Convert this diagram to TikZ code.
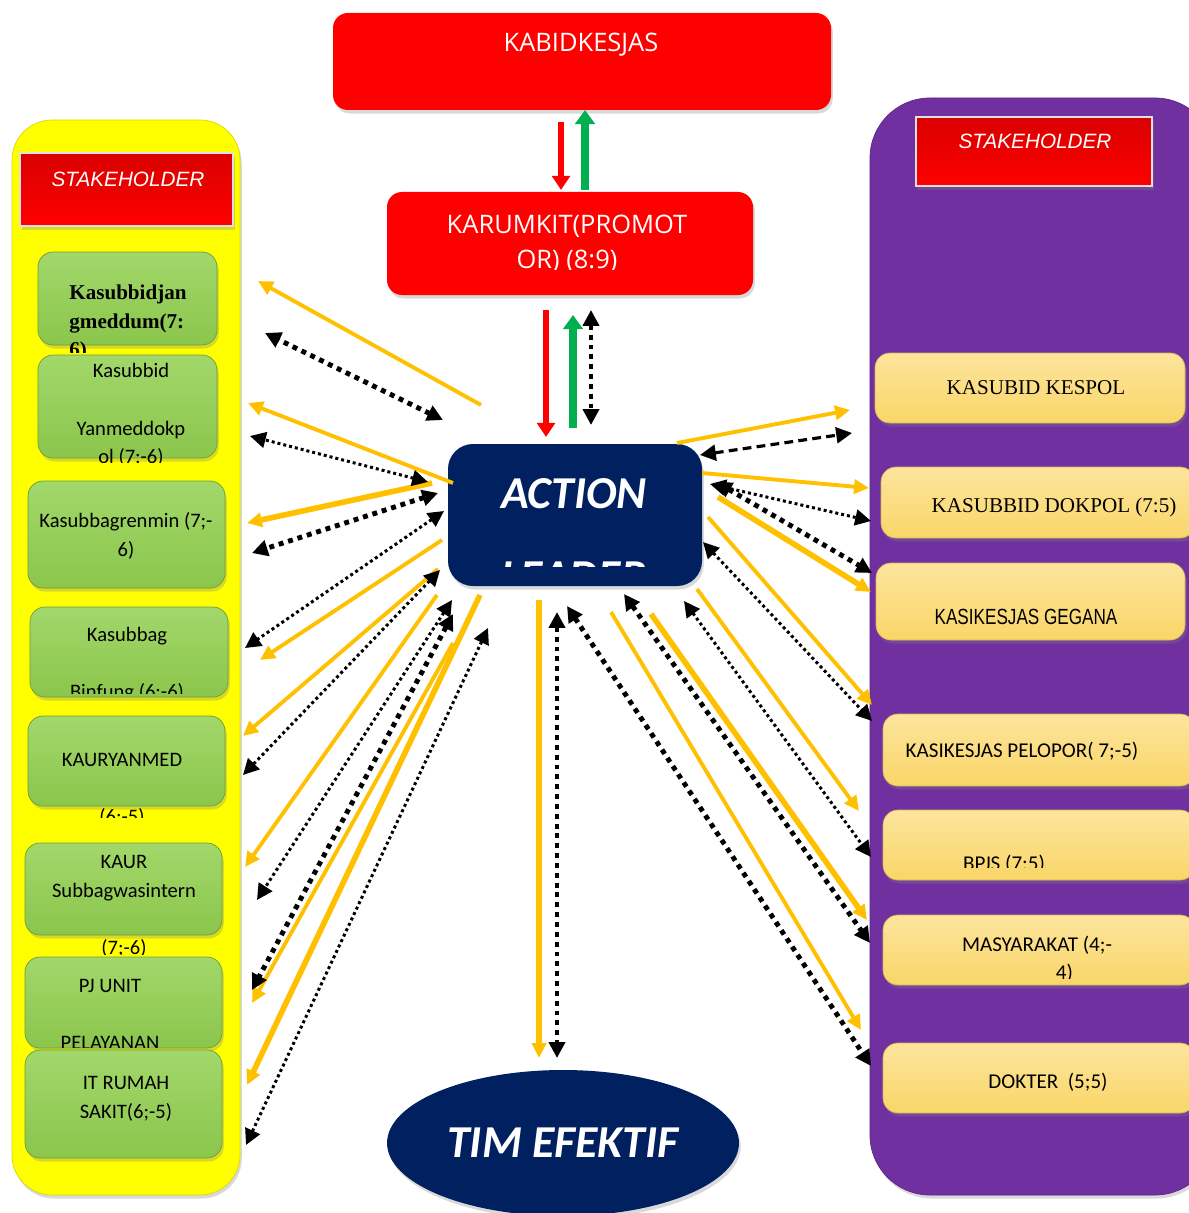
\documentclass[tikz,border=0pt]{standalone}
\usepackage{fontspec}
\setmainfont{Carlito}
\newfontfamily\timesfont{Liberation Serif}
\newfontfamily\arialfont{Liberation Sans}
\newfontfamily\narrowfont[FakeStretch=0.78]{Liberation Sans}
\newfontfamily\openfont{Open Sans}
\usetikzlibrary{arrows.meta,fit,shapes.geometric,shadows}

\definecolor{kred}{RGB}{255,0,0}
\definecolor{kgreen}{RGB}{146,208,80}
\definecolor{kgold}{RGB}{250,214,104}
\definecolor{kyellow}{RGB}{255,255,0}
\definecolor{kpurple}{RGB}{112,48,160}
\definecolor{knavy}{RGB}{0,32,96}
\definecolor{karrow}{RGB}{255,192,0}
\definecolor{kup}{RGB}{0,176,80}

\tikzset{
  softshadow/.style={drop shadow={opacity=0.3, shadow xshift=1pt, shadow yshift=-2pt}},
  panel/.style={inner sep=0pt, rounded corners=0.8cm, softshadow},
  redbox/.style={inner sep=0pt, fill=kred, rounded corners=0.3cm, softshadow},
  navybox/.style={inner sep=0pt, fill=knavy, rounded corners=0.5cm, softshadow},
  stakebox/.style={inner sep=0pt, top color=kred!85!black, bottom color=kred, draw=black!12, line width=1.2pt, softshadow},
  greenbox/.style={inner sep=0pt, rounded corners=0.3cm, top color=kgreen!85!white, middle color=kgreen, bottom color=kgreen!95!black, draw=kgreen!75!black, line width=0.4pt, softshadow},
  goldbox/.style={inner sep=0pt, rounded corners=0.3cm, top color=kgold!65!white, middle color=kgold, bottom color=kgold, draw=kgold!85!black, line width=0.4pt, softshadow},
  boxtext/.style={inner sep=0pt, align=center, font=\fontsize{11.7pt}{16.4pt}\selectfont},
  headtext/.style={inner sep=0pt, text=white, font=\arialfont\itshape\fontsize{11.8pt}{14pt}\selectfont},
  redtext/.style={inner sep=0pt, align=center, text=white, font=\openfont\fontsize{14.5pt}{19.8pt}\selectfont},
  bigtext/.style={inner sep=0pt, align=center, text=white, font=\bfseries\itshape\fontsize{26pt}{47.6pt}\selectfont},
  yarrow/.style={draw=karrow, line width=2.2pt, -{Triangle[length=8.5pt,width=8pt]}},
  ythick/.style={yarrow, line width=3.2pt},
  dotarrow/.style={draw=black, line width=1.7pt, dash pattern=on 1.7pt off 1.7pt,
    {Triangle[length=9pt,width=9pt]}-{Triangle[length=9pt,width=9pt]}},
  sqarrow/.style={dotarrow, line width=2.8pt, dash pattern=on 2.8pt off 2.8pt},
  dasharrow/.style={dotarrow, line width=1.8pt, dash pattern=on 5pt off 3pt},
  redarrow/.style={draw=kred, line width=3.4pt, -{Triangle[length=8pt,width=10pt]}},
  greenarrow/.style={draw=kup, line width=4pt, -{Triangle[length=8pt,width=11pt]}}
}

\begin{document}
\begin{tikzpicture}[x=0.02cm, y=-0.02cm]
  \useasboundingbox (0,0) rectangle (1189,1213);
  \clip (0,0) rectangle (1189,1213);

  % panels and the central chain
  \node[panel, fill=kyellow, draw=kyellow!85!black, fit={(12,120) (240,1195)}] (leftpanel) {};
  \node[panel, rounded corners=1.2cm, fill=kpurple, draw=kpurple!80!black, fit={(870,98) (1215,1195)}] (rightpanel) {};

  \node[redbox, fit={(333,13) (831,110)}] (kabid) {};
  \node[redbox, fit={(387,192) (753,295)}] (karumkit) {};
  \node[navybox, fit={(448,444) (702,586)}] (leader) {};
  \node[inner sep=0pt, ellipse, fill=knavy, softshadow, minimum width=7.04cm, minimum height=2.92cm,
        text=white, font=\bfseries\itshape\fontsize{26pt}{30pt}\selectfont] (tim) at (563,1143) {TIM EFEKTIF};

  \node[stakebox, fit={(20,153) (233,226)}] (lefthead) {};
  \node[stakebox, fit={(916,117) (1152,186)}] (righthead) {};

  \begin{scope}[every node/.style={greenbox}]
    \node[fit={(38,252) (217,345)}] (jangmed) {};
    \node[fit={(38,355) (217,458)}] (yanmed) {};
    \node[fit={(28,481) (225,588)}] (renmin) {};
    \node[fit={(30,607) (228,697)}] (binfung) {};
    \node[fit={(28,716) (225,806)}] (yanmedkaur) {};
    \node[fit={(25,843) (222,935)}] (wasintern) {};
    \node[fit={(25,957) (222,1048)}] (pjunit) {};
    \node[fit={(25,1050) (222,1158)}] (itrs) {};
  \end{scope}

  \begin{scope}[every node/.style={goldbox}]
    \node[fit={(875,353) (1185,423)}] (kespol) {};
    \node[fit={(881,467) (1195,538)}] (dokpol) {};
    \node[fit={(876,563) (1185,640)}] (gegana) {};
    \node[fit={(883,714) (1195,786)}] (pelopor) {};
    \node[fit={(883,810) (1195,880)}] (bpjs) {};
    \node[fit={(883,915) (1195,985)}] (masy) {};
    \node[fit={(883,1043) (1195,1113)}] (dokter) {};
  \end{scope}

  % texts
  \node[redtext] (kabidtext) at (581,45) {KABIDKESJAS};
  \begin{scope}
    \clip (387,192) rectangle (753,269);
    \node[redtext] (karumkittext) at (567,244) {KARUMKIT(PROMOT\\OR) (8:9)};
  \end{scope}
  \begin{scope}
    \clip (448,444) rectangle (702,566);
    \node[bigtext] (leadertext) at (574,535) {ACTION\\LEADER};
  \end{scope}
  \node[headtext] (leftheadtext) at (128,179) {STAKEHOLDER};
  \node[headtext] (rightheadtext) at (1035,141) {STAKEHOLDER};

  \begin{scope}[every node/.style={boxtext}]
    \begin{scope}
      \clip (38,252) rectangle (217,352);
      \node[align=left, font=\timesfont\bfseries\fontsize{12pt}{16.4pt}\selectfont] (jangmedtext) at (128,323) {Kasubbidjan\\gmeddum(7:\\6)};
    \end{scope}
    \begin{scope}
      \clip (38,355) rectangle (217,462);
      \node (yanmedtext) at (131,415) {Kasubbid\\[16.3pt]Yanmeddokp\\ol (7;-6)};
    \end{scope}
    \node (renmintext) at (126,536) {Kasubbagrenmin (7;-\\6)};
    \begin{scope}
      \clip (30,607) rectangle (228,693);
      \node (binfungtext) at (127,665) {Kasubbag\\[16pt]Binfung (6;-6)};
    \end{scope}
    \begin{scope}
      \clip (28,716) rectangle (225,817);
      \node (yanmedkaurtext) at (122,790) {KAURYANMED\\[16pt](6;-5)};
    \end{scope}
    \begin{scope}
      \clip (25,843) rectangle (222,954);
      \node (wasinterntext) at (124,906) {KAUR\\Subbagwasintern\\[16pt](7;-6)};
    \end{scope}
    \begin{scope}
      \clip (25,957) rectangle (222,1047);
      \node (pjunittext) at (110,1014) {PJ UNIT\\[16pt]PELAYANAN};
    \end{scope}
    \node (itrstext) at (126,1099) {IT RUMAH\\SAKIT(6;-5)};

    \node[font=\timesfont\fontsize{12pt}{14pt}\selectfont] (kespoltext) at (1036,388) {KASUBID KESPOL};
    \node[font=\timesfont\fontsize{12pt}{14pt}\selectfont] (dokpoltext) at (1054,507) {KASUBBID DOKPOL (7:5)};
    \node[font=\narrowfont\fontsize{12.5pt}{14pt}\selectfont] (geganatext) at (1026,617) {KASIKESJAS GEGANA};
    \node[font=\fontsize{12pt}{16.4pt}\selectfont] (peloportext) at (1022,751) {KASIKESJAS PELOPOR( 7;-5)};
    \begin{scope}
      \clip (883,810) rectangle (1189,867);
      \node[font=\fontsize{12pt}{16.4pt}\selectfont] (bpjstext) at (1004,864) {BPJS (7;5)};
    \end{scope}
    \begin{scope}
      \clip (883,915) rectangle (1189,978);
      \node[font=\fontsize{12pt}{16pt}\selectfont] (masytext) at (1037,959) {MASYARAKAT (4;-\\\hspace*{2.6em}4)};
    \end{scope}
    \node[font=\fontsize{12pt}{16.4pt}\selectfont] (doktertext) at (1048,1082) {DOKTER\ \ (5;5)};
  \end{scope}

  % connectors: a start and an end coordinate for each
  \foreach \n/\ax/\ay/\bx/\by in {c1/561/122/561/190, c3/546/310/546/437}
    {\coordinate (s\n) at (\ax,\ay); \coordinate (t\n) at (\bx,\by); \draw[redarrow] (s\n) -- (t\n);}
  \foreach \n/\ax/\ay/\bx/\by in {c2/585/190/585/110, c4/573/428/573/315}
    {\coordinate (s\n) at (\ax,\ay); \coordinate (t\n) at (\bx,\by); \draw[greenarrow] (s\n) -- (t\n);}

  \foreach \n/\ax/\ay/\bx/\by in {l1/481/405/258/281, l3/453/483/248/403, l8/442/540/260/660,
      l9/438/569/243/736, l11/437/595/245/867, l14/453/643/252/1003,
      r1/677/443/850/410, r3/702/473/869/488, r7/708/517/872/705,
      r9/697/589/859/811, r13/611/612/861/1030}
    {\coordinate (s\n) at (\ax,\ay); \coordinate (t\n) at (\bx,\by); \draw[yarrow] (s\n) -- (t\n);}
  \foreach \n/\ax/\ay/\bx/\by in {l5/432/483/247/523, l15/480/595/247/1085, r6/718/497/871/592,
      r11/651/614/867/920, c6/539/600/539/1058}
    {\coordinate (s\n) at (\ax,\ay); \coordinate (t\n) at (\bx,\by); \draw[ythick] (s\n) -- (t\n);}

  \foreach \n/\ax/\ay/\bx/\by in {l4/428/482/250/436, l7/444/511/245/648, l10/440/570/243/775,
      l12/452/600/257/900, l16/488/628/246/1145, r4/710/484/871/521,
      r8/703/542/872/721, r10/684/601/871/857}
    {\coordinate (s\n) at (\ax,\ay); \coordinate (t\n) at (\bx,\by); \draw[dotarrow] (s\n) -- (t\n);}
  \foreach \n/\ax/\ay/\bx/\by in {l2/443/420/265/333, l6/438/493/252/553, l13/453/614/252/990,
      r5/716/482/872/573, r12/624/594/870/943, r14/567/606/871/1066,
      c5/591/310/591/425, c7/557/612/557/1058}
    {\coordinate (s\n) at (\ax,\ay); \coordinate (t\n) at (\bx,\by); \draw[sqarrow] (s\n) -- (t\n);}
  \coordinate (sr2) at (700,455);
  \coordinate (tr2) at (852,433);
  \draw[dasharrow] (sr2) -- (tr2);

\end{tikzpicture}
\end{document}
